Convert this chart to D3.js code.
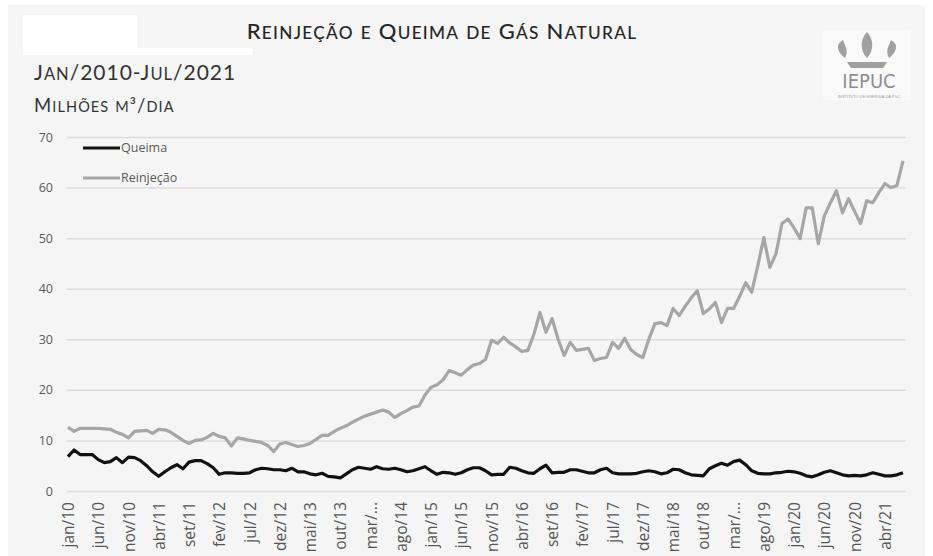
<!DOCTYPE html>
<html>
<head>
<meta charset="utf-8">
<script src="https://cdn.jsdelivr.net/npm/d3@7"></script>
<style>
html,body{margin:0;padding:0;background:#fff;}
svg{display:block;}
</style>
</head>
<body>
<svg id="chart" width="933" height="556"></svg>
<script>
// ---- DATA ----
const monthNames = ["jan","fev","mar","abr","mai","jun","jul","ago","set","out","nov","dez"];
const startYear = 2010;
const monthCount = 139; // jan/2010 .. jul/2021
const queima = [
 6.8,8.1,7.2,7.2,7.2,6.2,5.6,5.8,6.6,5.6,6.7,6.6,
 6.0,5.0,3.8,2.9,3.8,4.6,5.2,4.4,5.7,6.0,6.0,5.4,
 4.6,3.3,3.6,3.6,3.5,3.5,3.6,4.2,4.5,4.4,4.2,4.2,
 4.0,4.5,3.8,3.8,3.4,3.2,3.5,2.9,2.8,2.6,3.4,4.2,
 4.7,4.5,4.3,4.8,4.4,4.3,4.5,4.2,3.8,4.0,4.4,4.8,
 4.0,3.3,3.7,3.6,3.3,3.6,4.2,4.6,4.6,4.0,3.2,3.3,
 3.3,4.7,4.5,4.0,3.6,3.5,4.4,5.1,3.6,3.7,3.7,4.2,
 4.2,3.9,3.6,3.6,4.2,4.5,3.6,3.4,3.4,3.4,3.5,3.8,
 4.0,3.8,3.4,3.6,4.3,4.2,3.6,3.2,3.1,3.0,4.4,5.0,
 5.5,5.1,5.8,6.1,5.2,4.0,3.5,3.4,3.4,3.6,3.7,3.9,
 3.8,3.5,3.0,2.8,3.2,3.7,4.0,3.6,3.2,3.0,3.1,3.0,
 3.2,3.6,3.3,3.0,3.0,3.2,3.6
];
const reinjecao = [
 12.6,11.8,12.4,12.4,12.4,12.4,12.3,12.2,11.6,11.2,10.5,11.8,
 11.9,12.0,11.4,12.2,12.1,11.6,10.8,10.0,9.4,10.0,10.1,10.6,
 11.4,10.8,10.5,8.9,10.5,10.3,10.0,9.8,9.6,9.0,7.8,9.3,
 9.6,9.2,8.8,9.0,9.4,10.2,11.0,11.0,11.8,12.4,12.9,13.6,
 14.2,14.8,15.2,15.6,16.0,15.6,14.5,15.3,15.9,16.6,16.8,19.0,
 20.5,21.0,22.0,23.8,23.4,22.9,24.0,24.9,25.2,26.0,29.8,29.2,
 30.4,29.3,28.5,27.6,27.8,31.0,35.3,31.4,34.1,30.0,26.8,29.4,
 27.8,28.0,28.2,25.8,26.2,26.4,29.4,28.2,30.2,28.0,27.0,26.4,
 30.0,33.1,33.3,32.7,36.1,34.7,36.5,38.2,39.6,35.1,36.0,37.3,
 33.3,36.1,36.1,38.5,41.2,39.3,44.5,50.1,44.2,46.9,52.9,53.8,
 52.0,49.9,56.0,56.0,48.9,54.4,57.0,59.4,55.0,57.8,55.3,52.9,
 57.4,57.0,59.0,60.8,60.0,60.4,65.3
];
const yTicks = [0,10,20,30,40,50,60,70];
const tickEvery = 5;
const truncatedLabels = {"mar/14":"mar/...","mar/19":"mar/..."};
const seriesNames = ["Queima","Reinjeção"];
const seriesColors = ["#111111","#a6a6a6"];
const titleText = "Reinjeção e Queima de Gás Natural";
const subtitle1 = "Jan/2010-Jul/2021";
const subtitle2 = "Milhões m³/dia";

// ---- BUILD ----
const months = d3.range(monthCount).map(i => monthNames[i % 12] + "/" + String((startYear + Math.floor(i/12)) % 100).padStart(2,"0"));
const svg = d3.select("#chart");
const W = 933, H = 556;
svg.append("rect").attr("width",W).attr("height",H).attr("fill","#ffffff");
svg.append("rect").attr("x",8).attr("y",5).attr("width",917).attr("height",H-5).attr("fill","#f5f5f5");
// white patches at top left
svg.append("rect").attr("x",23).attr("y",15).attr("width",114).attr("height",40).attr("fill","#ffffff");
svg.append("rect").attr("x",137).attr("y",48).attr("width",116).attr("height",7).attr("fill","#ffffff");

const m = {left:68, right:903, top:137, bottom:491};
const x = d3.scalePoint().domain(months).range([m.left, m.right]);
const y = d3.scaleLinear().domain([0,70]).range([m.bottom, m.top]);

// gridlines
const yAxis = d3.axisLeft(y).tickValues(yTicks).tickSize(-(m.right - m.left + 4)).tickPadding(14);
const gy = svg.append("g").attr("transform",`translate(${m.left-1},0)`).call(yAxis);
gy.select(".domain").remove();
gy.selectAll(".tick line").attr("stroke","#dcdcdc").attr("stroke-width",1.5);
gy.selectAll(".tick text").attr("fill","#595959").style("font-family","'Open Sans', sans-serif").style("font-size","12.5px");

// x axis labels
const xTickVals = months.filter((d,i) => i % tickEvery === 0);
const xAxis = d3.axisBottom(x).tickValues(xTickVals).tickSize(0).tickFormat(d => truncatedLabels[d] || d);
const gx = svg.append("g").attr("transform",`translate(0,${m.bottom})`).call(xAxis);
gx.select(".domain").remove();
gx.selectAll(".tick text")
  .attr("transform","rotate(-90)")
  .attr("text-anchor","end")
  .attr("x",-11).attr("y",0).attr("dy","0.36em")
  .attr("fill","#555")
  .style("font-family","'Open Sans', sans-serif").style("font-size","15.5px");

// lines
const line = d3.line().x((d,i) => x(months[i])).y(d => y(d));
svg.append("path").datum(reinjecao).attr("d",line).attr("fill","none").attr("stroke",seriesColors[1]).attr("stroke-width",3.2).attr("stroke-linejoin","round");
svg.append("path").datum(queima).attr("d",line).attr("fill","none").attr("stroke",seriesColors[0]).attr("stroke-width",3.2).attr("stroke-linejoin","round");

// legend
const lg = svg.append("g");
seriesNames.forEach((n,i) => {
  const ly = 148 + i*30;
  lg.append("line").attr("x1",83).attr("x2",120).attr("y1",ly).attr("y2",ly).attr("stroke",seriesColors[i]).attr("stroke-width",3);
  lg.append("text").attr("x",121).attr("y",ly).attr("dy","0.35em").text(n)
    .attr("fill","#595959").style("font-family","'Open Sans', sans-serif").style("font-size","12.5px");
});

// small-caps helper: uppercase chars big, lowercase chars rendered as smaller capitals
function smallCaps(sel, str, big, small) {
  const parts = [];
  for (const ch of str) {
    const isLower = ch !== ch.toUpperCase();
    const sz = isLower ? small : big;
    const c = isLower ? ch.toUpperCase() : ch;
    if (parts.length && parts[parts.length-1].sz === sz) parts[parts.length-1].t += c;
    else parts.push({sz, t:c});
  }
  parts.forEach(p => sel.append("tspan").style("font-size", p.sz + "px").text(p.t));
}

// titles
const t = svg.append("text").attr("x",442).attr("y",39).attr("text-anchor","middle")
  .attr("fill","#262626").style("font-family","Lato, sans-serif").style("font-weight","500").style("letter-spacing","1.3px");
smallCaps(t, titleText, 22, 17.2);
const s1 = svg.append("text").attr("x",34).attr("y",80)
  .attr("fill","#333").style("font-family","Lato, sans-serif").style("letter-spacing","1px");
smallCaps(s1, subtitle1, 21, 16.5);
const s2 = svg.append("text").attr("x",34).attr("y",112)
  .attr("fill","#333").style("font-family","Lato, sans-serif").style("letter-spacing","1.1px");
smallCaps(s2, subtitle2, 18.5, 14.5);

// logo
const logo = svg.append("g").attr("transform","translate(823,30)");
logo.append("rect").attr("width",88).attr("height",70).attr("fill","#f9f9f9");
logo.append("path").attr("d","M22,28 C14,22 12,14 20,10 C22,16 26,20 22,28 Z M44,28 C36,20 38,8 44,2 C50,8 52,20 44,28 Z M66,28 C62,20 66,16 68,10 C76,14 74,22 66,28 Z M24,32 L64,32 L60,38 L28,38 Z").attr("fill","#a0a0a0");
logo.append("text").attr("x",46).attr("y",58).attr("text-anchor","middle").text("IEPUC")
  .attr("fill","#8f8f8f").style("font-family","'Liberation Sans Narrow', 'DejaVu Sans Condensed', sans-serif").style("font-size","20px");
logo.append("text").attr("x",46).attr("y",68).attr("text-anchor","middle").text("INSTITUTO DE ENERGIA DA PUC")
  .attr("fill","#999").style("font-family","sans-serif").style("font-size","4px");
</script>
</body>
</html>
